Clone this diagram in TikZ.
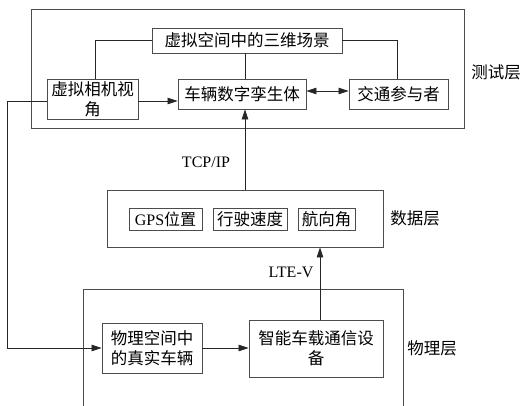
\documentclass[tikz,border=0pt]{standalone}
\usepackage{fontspec}
\setmainfont{Liberation Serif}
\newfontfamily\cjk{Noto Sans CJK SC}
\usetikzlibrary{arrows.meta}
\begin{document}
\begin{tikzpicture}[x=1pt,y=-1pt,
  box/.style={draw=black!70,line width=0.9pt,inner sep=0pt,align=center,
    font=\cjk\fontsize{16.5}{20}\selectfont},
  layer/.style={draw=black!70,line width=0.9pt,inner sep=0pt},
  lbl/.style={font=\cjk\fontsize{16.5}{20}\selectfont,inner sep=0pt},
  proto/.style={font=\fontsize{16}{18}\selectfont,inner sep=0pt},
  conn/.style={draw=black!85,line width=0.8pt},
  arr/.style={conn,-{Triangle[length=10pt,width=6.5pt]}},
  darr/.style={conn,{Triangle[length=10pt,width=6.5pt]}-{Triangle[length=10pt,width=6.5pt]}}]
\useasboundingbox (0,0) rectangle (521,406);
% layers
\node[layer,minimum width=433pt,minimum height=119pt] (test) at (247.5,68.5) {};
\node[layer,minimum width=276pt,minimum height=57pt] (data) at (245,218.5) {};
\draw[layer] (83,407) -- (83,289) -- (403,289) -- (403,407);
% test layer nodes
\node[box,minimum width=190pt,minimum height=25pt] (scene) at (247,40.5) {虚拟空间中的三维场景};
\node[box,minimum width=91pt,minimum height=40pt] (cam) at (92.5,99) {虚拟相机视\\角};
\node[box,minimum width=128pt,minimum height=30pt] (twin) at (242,94) {车辆数字孪生体};
\node[box,minimum width=99pt,minimum height=30pt] (part) at (398.5,94) {交通参与者};
% data layer nodes
\node[box,minimum width=73pt,minimum height=22pt,font=\fontsize{16}{18}\selectfont] (gps) at (165.5,219) {GPS{\cjk 位置}};
\node[box,minimum width=74pt,minimum height=22pt] (speed) at (250,219) {行驶速度};
\node[box,minimum width=57pt,minimum height=22pt] (head) at (326.5,219) {航向角};
% physical layer nodes
\node[box,minimum width=100pt,minimum height=50pt] (real) at (152,348) {物理空间中\\的真实车辆};
\node[box,minimum width=134pt,minimum height=57pt] (dev) at (316,348.5) {智能车载通信设\\备};
% layer labels
\node[lbl] (lt) at (496,72) {测试层};
\node[lbl] (ld) at (415,218) {数据层};
\node[lbl] (lp) at (432,348) {物理层};
% connectors
\draw[conn] (scene.west) -| ([xshift=2.5pt]cam.north);
\draw[conn] (scene.east) -| ([xshift=-1.5pt]part.north);
\draw[conn] ([xshift=-2pt]scene.south) -- ([xshift=-2pt]scene.south |- twin.north);
\draw[arr] ([yshift=-2pt]cam.east) -- ([yshift=-2pt]cam.east -| twin.west);
\draw[darr] ([yshift=3pt]twin.east) -- ([yshift=3pt]part.west);
\coordinate (fb) at (7,0);
\draw[arr] ([yshift=-2pt]cam.west) -- ([yshift=-2pt]cam.west -| fb) |- (real.west);
\draw[arr] (data.north) -- (data.north |- twin.south);
\node[proto] (tcp) at (206,162) {TCP/IP};
\draw[arr] ([xshift=4pt]dev.north) -- ([xshift=4pt]dev.north |- data.south);
\node[proto] (lte) at (291,272) {LTE-V};
\draw[arr] (real.east) -- (real.east -| dev.west);
\end{tikzpicture}
\end{document}
